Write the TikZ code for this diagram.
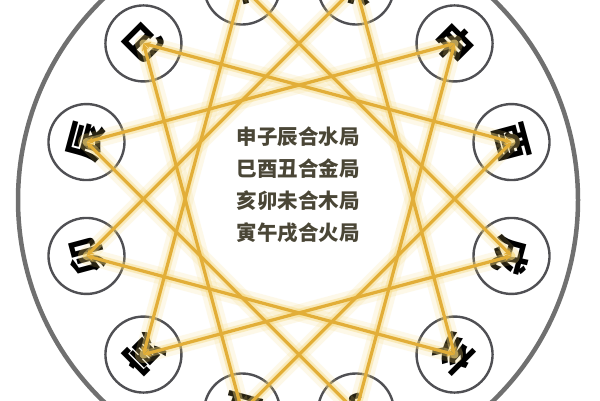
\documentclass[tikz,border=0pt]{standalone}
\usepackage{fontspec}
\newfontfamily\cjk{Noto Sans CJK SC}
\usetikzlibrary{arrows.meta}
\definecolor{gold}{RGB}{226,174,56}
\definecolor{glowc}{RGB}{245,214,118}
\definecolor{ring}{RGB}{80,80,84}
\definecolor{outerc}{RGB}{112,112,112}
\definecolor{txt}{RGB}{74,70,54}
\begin{document}
\begin{tikzpicture}[x=1pt,y=1pt,
  branch/.style={circle, draw=ring, line width=2.4pt, fill=white, minimum size=76pt, inner sep=0pt, font=\cjk\bfseries\fontsize{38}{38}\selectfont},
  glowwide/.style={glowc, line width=17pt, opacity=0.16, line cap=round},
  glownarrow/.style={glowc, line width=8pt, opacity=0.4, line cap=round},
  goldline/.style={gold, line width=3.2pt, {Stealth[length=7pt,width=6.5pt]}-{Stealth[length=7pt,width=6.5pt]}},
  centertext/.style={font=\cjk\bfseries\fontsize{20.5}{20.5}\selectfont, text=txt, inner sep=0pt}
]
\useasboundingbox (0,0) rectangle (600,400);
\clip (0,0) rectangle (600,400);
\fill[white] (0,0) rectangle (600,400);
\coordinate (c) at (299,201);
\draw[outerc, line width=4.5pt] (298,200) circle (280);
\begin{scope}[shift={(299,201)}]
  \node[branch, rotate=-75]  (you)  at (15:220)  {酉};
  \node[branch, rotate=-45]  (shen) at (45:220)  {申};
  \node[branch, rotate=-15]  (wei)  at (75:220)  {未};
  \node[branch, rotate=15]   (wu)   at (105:220) {午};
  \node[branch, rotate=45]   (si)   at (135:220) {巳};
  \node[branch, rotate=75]   (chen) at (165:220) {辰};
  \node[branch, rotate=105]  (mao)  at (195:220) {卯};
  \node[branch, rotate=135]  (yin)  at (225:220) {寅};
  \node[branch, rotate=165]  (chou) at (255:220) {丑};
  \node[branch, rotate=195]  (zi)   at (285:220) {子};
  \node[branch, rotate=225]  (hai)  at (315:220) {亥};
  \node[branch, rotate=255]  (xu)   at (345:220) {戌};
\end{scope}
\foreach \a/\b in {shen/zi, zi/chen, chen/shen, si/you, you/chou, chou/si, hai/mao, mao/wei, wei/hai, yin/wu, wu/xu, xu/yin} {
  \draw[glowwide] (\a.center) -- (\b.center);
}
\foreach \a/\b in {shen/zi, zi/chen, chen/shen, si/you, you/chou, chou/si, hai/mao, mao/wei, wei/hai, yin/wu, wu/xu, xu/yin} {
  \draw[glownarrow] (\a.center) -- (\b.center);
}
\foreach \a/\b in {shen/zi, zi/chen, chen/shen, si/you, you/chou, chou/si, hai/mao, mao/wei, wei/hai, yin/wu, wu/xu, xu/yin} {
  \draw[goldline] (\a.center) -- (\b.center);
}
\node[centertext] (t1) at (298,263) {申子辰合水局};
\node[centertext] (t2) at (298,231) {巳酉丑合金局};
\node[centertext] (t3) at (298,199) {亥卯未合木局};
\node[centertext] (t4) at (298,167) {寅午戌合火局};
\end{tikzpicture}
\end{document}
